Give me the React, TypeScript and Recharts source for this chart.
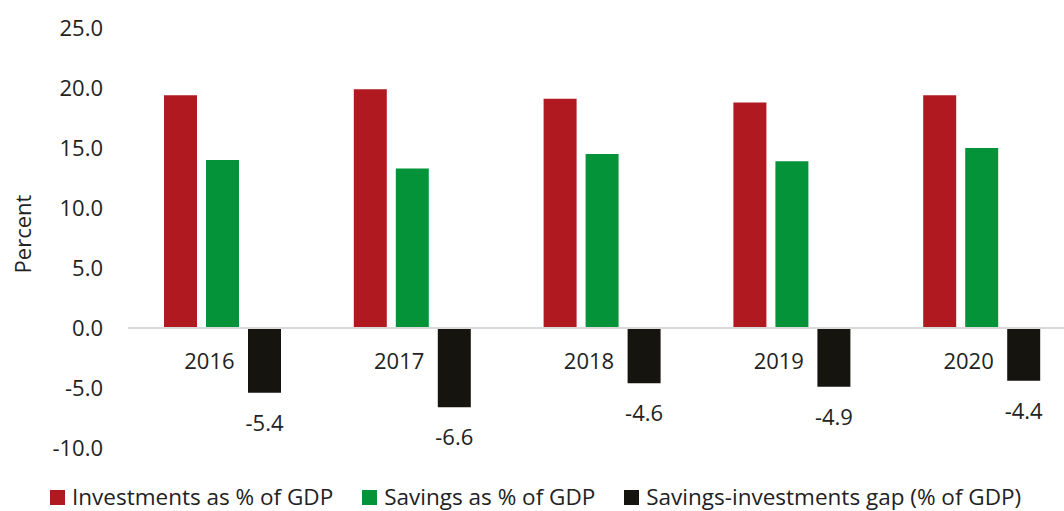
import React from "react";
import { BarChart, Bar, XAxis, YAxis, ReferenceLine, Legend, LabelList, Label } from "recharts";

const years = ["2016", "2017", "2018", "2019", "2020"];
const investments = [19.4, 19.9, 19.1, 18.8, 19.4];
const savings = [14.0, 13.3, 14.5, 13.9, 15.0];
const gap = [-5.4, -6.6, -4.6, -4.9, -4.4];
const yTicks = [-10, -5, 0, 5, 10, 15, 20, 25];

const data = years.map((year, i) => ({
  year,
  investments: investments[i],
  savings: savings[i],
  gap: gap[i],
}));

const FONT = "'Open Sans', Lato, sans-serif";
const TEXT = "#222";
const WEIGHT = 400;
const SIZE = 22;

const YearTick = (props: any) => {
  const { x, y, payload } = props;
  // labels sit just under the zero line, a bit left of the group centre
  return (
    <text x={x - 13.5} y={y - 88} textAnchor="middle" dominantBaseline="central" fontSize={SIZE} fontWeight={WEIGHT} fill={TEXT} fontFamily={FONT}>
      {payload.value}
    </text>
  );
};

const GapLabel = (props: any) => {
  const vb = props.viewBox || props;
  const bottom = Math.max(vb.y, vb.y + vb.height);
  return (
    <text x={vb.x + vb.width / 2} y={bottom + 29} textAnchor="middle" dominantBaseline="central" fontSize={SIZE} fontWeight={WEIGHT} fill={TEXT} fontFamily={FONT}>
      {Number(props.value).toFixed(1)}
    </text>
  );
};

const renderLegend = (props: any) => {
  const { payload } = props;
  return (
    <div style={{ display: "flex", alignItems: "center", boxSizing: "border-box", height: 30, paddingTop: 2, paddingLeft: 50, fontSize: 22.5, lineHeight: 1, fontWeight: WEIGHT, color: TEXT, fontFamily: FONT, whiteSpace: "nowrap" }}>
      {payload.map((entry: any) => (
        <div key={entry.value} style={{ display: "flex", alignItems: "center", marginRight: 29 }}>
          <span style={{ display: "inline-block", width: 15, height: 15, background: entry.color, marginRight: 7 }} />
          <span>{entry.value}</span>
        </div>
      ))}
    </div>
  );
};

const App: React.FC = () => {
  return (
    <div style={{ position: "absolute", left: 0, top: 0, width: 1064, height: 511, overflow: "hidden", background: "#fff" }}>
      <BarChart width={1080} height={511} data={data} margin={{ top: 28, right: 3, left: 0, bottom: 0 }} barGap={9}>
        <XAxis dataKey="year" axisLine={false} tickLine={false} tickSize={0} tickMargin={0} height={33} interval={0} tick={<YearTick />} />
        <YAxis
          width={128}
          domain={[-10, 25]}
          ticks={yTicks}
          tickFormatter={(v: number) => v.toFixed(1)}
          axisLine={false}
          tickLine={false}
          tickSize={0}
          tickMargin={25}
          tick={{ fontSize: SIZE, fill: TEXT, fontFamily: FONT, fontWeight: WEIGHT }}
        >
          <Label
            content={(p: any) => {
              const vb = p.viewBox;
              const cy = vb.y + vb.height / 2 - 4;
              return (
                <text x={22} y={cy} transform={`rotate(-90, 22, ${cy})`} textAnchor="middle" dominantBaseline="central" fontSize={SIZE} fontWeight={WEIGHT} fill={TEXT} fontFamily={FONT}>
                  Percent
                </text>
              );
            }}
          />
        </YAxis>
        <Legend verticalAlign="bottom" align="left" content={renderLegend} wrapperStyle={{ left: 0, bottom: 0, width: 1064 }} />
        <ReferenceLine y={0} stroke="#d9d9d9" strokeWidth={2} />
        <Bar dataKey="investments" name="Investments as % of GDP" fill="#B01920" barSize={33} isAnimationActive={false} />
        <Bar dataKey="savings" name="Savings as % of GDP" fill="#05933A" barSize={33} isAnimationActive={false} />
        <Bar dataKey="gap" name="Savings-investments gap (% of GDP)" fill="#16140F" barSize={33} isAnimationActive={false}>
          <LabelList dataKey="gap" content={<GapLabel />} />
        </Bar>
      </BarChart>
    </div>
  );
};

export default App;
